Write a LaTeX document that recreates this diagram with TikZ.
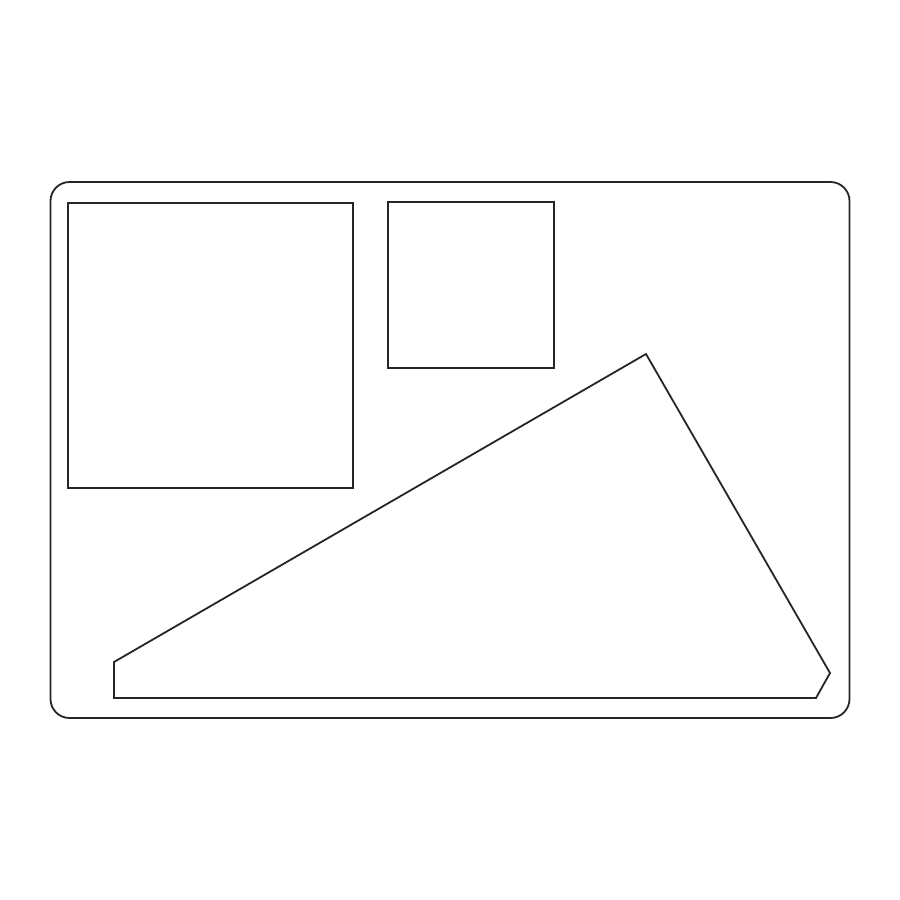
\documentclass[tikz,border=0pt]{standalone}
\begin{document}
\begin{tikzpicture}[x=1pt,y=-1pt,outline/.style={draw=black!85,line width=1.8pt,line join=miter}]
\useasboundingbox[fill=white] (0,0) rectangle (900,900);
\draw[outline,rounded corners=19pt] (50.5,182) rectangle (849.5,718);
\draw[outline] (68,203) rectangle (353,488);
\draw[outline] (388,202) rectangle (554,368);
\draw[outline] (646,354) -- (830,673) -- (816,698) -- (114,698) -- (114,662) -- cycle;
\end{tikzpicture}
\end{document}
